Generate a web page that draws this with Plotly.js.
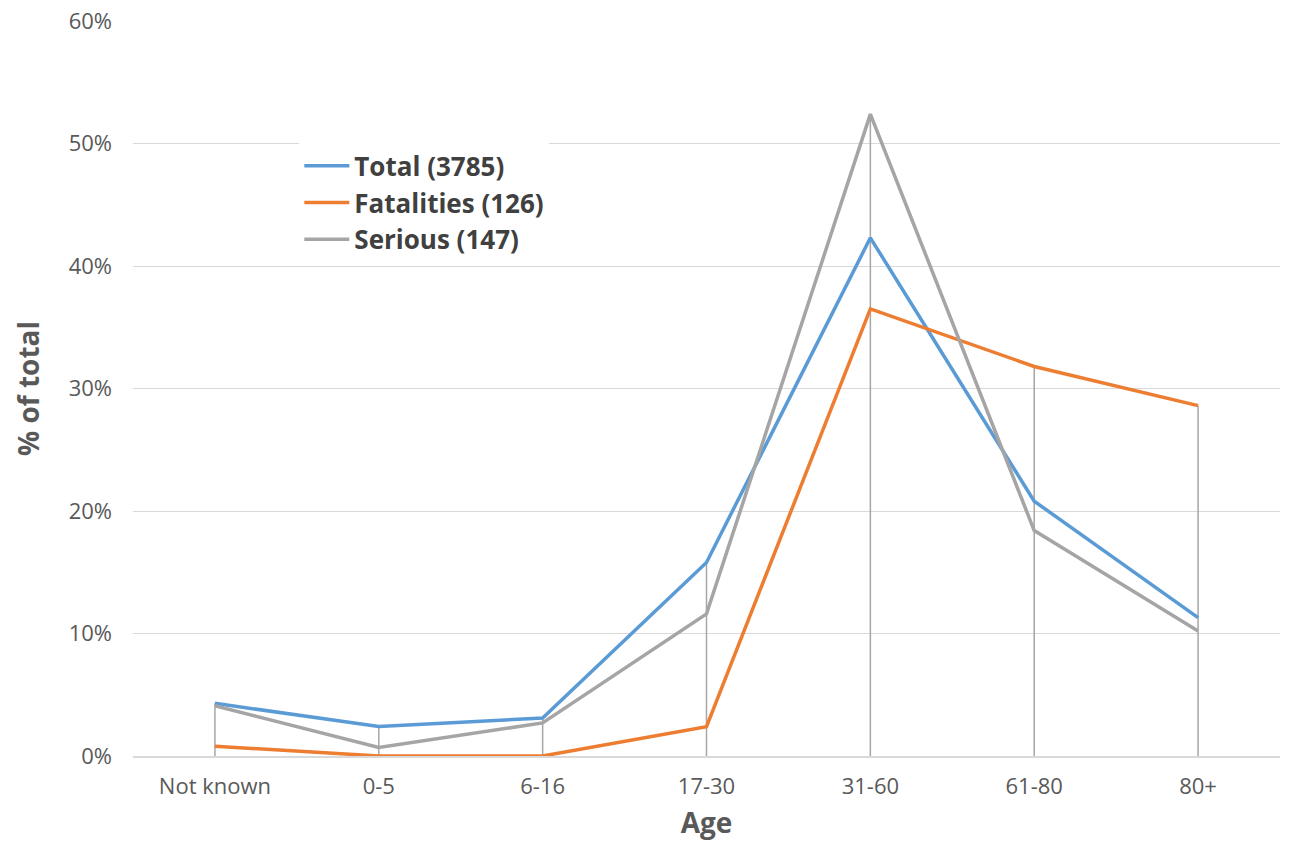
<!DOCTYPE html>
<html>
<head>
<meta charset="utf-8">
<script src="https://cdn.plot.ly/plotly-3.0.1.min.js"></script>
<style>body{margin:0;background:#fff}</style>
</head>
<body>
<div id="myDiv" style="width:1300px;height:847px"></div>
<script>
let categorias = ["Not known", "0-5", "6-16", "17-30", "31-60", "61-80", "80+"];
let total = [4.3, 2.4, 3.1, 15.8, 42.3, 20.8, 11.3];
let fatalities = [0.8, 0, 0, 2.4, 36.5, 31.8, 28.6];
let serious = [4.1, 0.7, 2.7, 11.6, 52.4, 18.4, 10.2];

// drop lines like Excel: from axis up to the highest series
let dropX = [], dropY = [];
categorias.forEach((c, i) => {
  dropX.push(c, c, null);
  dropY.push(0, Math.max(total[i], fatalities[i], serious[i]), null);
});

let data = [
  {x: dropX, y: dropY, mode: 'lines', line: {color: '#a6a6a6', width: 1.5},
   showlegend: false, hoverinfo: 'skip'},
  {x: categorias, y: total, name: 'Total (3785)', mode: 'lines', line: {color: '#5b9bd5', width: 3.5}},
  {x: categorias, y: fatalities, name: 'Fatalities (126)', mode: 'lines', line: {color: '#ed7d31', width: 3.5}},
  {x: categorias, y: serious, name: 'Serious (147)', mode: 'lines', line: {color: '#a5a5a5', width: 3.5}}
];

let layout = {
  width: 1300, height: 847,
  margin: {l: 133, r: 20, t: 21, b: 91},
  paper_bgcolor: '#fff', plot_bgcolor: '#fff',
  font: {family: 'Open Sans, sans-serif', color: '#595959'},
  showlegend: true,
  legend: {x: 0.145, y: 0.835, xanchor: 'left', yanchor: 'top',
           font: {size: 26, color: '#404040', weight: 'bold'}, itemwidth: 45},
  xaxis: {
    type: 'category', range: [-0.5, 6.5], showgrid: false,
    showline: true, linecolor: '#d9d9d9', linewidth: 1.5,
    tickfont: {size: 22, color: '#595959'}, ticks: '', ticklabelstandoff: 10,
    title: {text: 'Age', font: {size: 28, color: '#595959', weight: 'bold'}, standoff: 14}
  },
  yaxis: {
    range: [0, 60], dtick: 10, ticksuffix: '%',
    gridcolor: '#d9d9d9', gridwidth: 1.2, zeroline: false,
    tickfont: {size: 22, color: '#595959'}, ticklabelstandoff: 20,
    title: {text: '% of total', font: {size: 28, color: '#595959', weight: 'bold'}, standoff: 20}
  }
};

Plotly.newPlot('myDiv', data, layout, {displayModeBar: false});
</script>
</body>
</html>
